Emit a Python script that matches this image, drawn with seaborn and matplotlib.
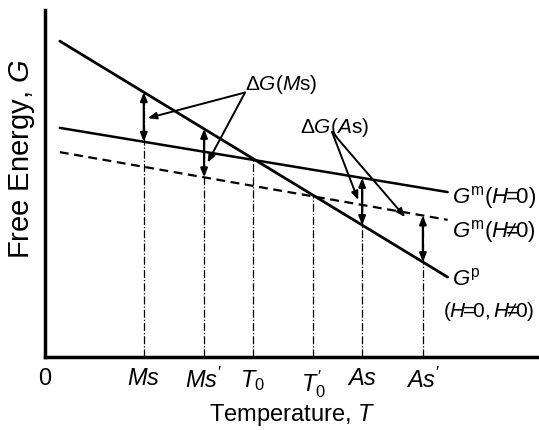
import matplotlib
matplotlib.use('Agg')
import matplotlib.pyplot as plt
import numpy as np
import seaborn as sns

# free energy lines (schematic), end points in arbitrary units
T_line = [0.3, 8.15]
G_p = [9.1, 2.3]      # parent phase, same for H=0 and H!=0
G_m0 = [6.6, 4.75]    # martensite, H=0
G_m1 = [5.9, 3.95]    # martensite, H!=0

# characteristic temperatures
T_names = ['Ms', 'Ms2', 'T0', 'T02', 'As', 'As2']
T_vals = [2.0, 3.22, 4.21, 5.43, 6.42, 7.65]
tick_labels = ['0', r'$Ms$', r"$Ms'$", r'$T_0$', r"$T_0'$", r'$As$', r"$As'$"]

sns.set_style('white')
plt.rcParams['font.family'] = ['Liberation Sans', 'DejaVu Sans']
plt.rcParams['mathtext.fontset'] = 'custom'
plt.rcParams['mathtext.rm'] = 'Liberation Sans'
plt.rcParams['mathtext.it'] = 'Liberation Sans:italic'
plt.rcParams['mathtext.bf'] = 'Liberation Sans:bold'
plt.rcParams['text.color'] = 'black'
plt.rcParams['axes.labelcolor'] = 'black'
plt.rcParams['xtick.color'] = 'black'

fig = plt.figure(figsize=(5.39, 4.30), dpi=100)
ax = fig.add_axes([0.0835, 0.17, 0.9165, 0.807])


def g(line, t):
    return np.interp(t, T_line, line)


sns.lineplot(x=T_line, y=G_p, ax=ax, color='black', lw=2.0)
sns.lineplot(x=T_line, y=G_m0, ax=ax, color='black', lw=1.8)
sns.lineplot(x=T_line, y=G_m1, ax=ax, color='black', lw=1.6, linestyle=(0, (4, 2.5)))

T = dict(zip(T_names, T_vals))

# vertical guide lines up to the relevant curve
tops = [g(G_p, T['Ms']), g(G_p, T['Ms2']), g(G_p, T['T0']), g(G_p, T['T02']),
        g(G_m0, T['As']), g(G_m1, T['As2'])]
ax.vlines(T_vals, 0, tops, colors='black', linestyles='dashdot', lw=0.9)

# driving force arrows
pairs = [(T['Ms'], G_m0), (T['Ms2'], G_m1), (T['As'], G_m0), (T['As2'], G_m1)]
for t, gm in pairs:
    ax.annotate('', xy=(t, g(G_p, t)), xytext=(t, g(gm, t)),
                arrowprops=dict(arrowstyle='<|-|>,head_length=0.5,head_width=0.2',
                                color='black', lw=1.6, shrinkA=0, shrinkB=0))

ptr = dict(arrowstyle='-|>,head_length=0.5,head_width=0.2', color='black',
           lw=1.4, shrinkA=0, shrinkB=0)

# Delta G(Ms) label and pointers
ax.text(4.05, 7.84, r'$\Delta G(M{\rm s})$', fontsize=15, ha='left', va='center')
ax.annotate('', xy=(T['Ms'] + 0.08, 6.88), xytext=(4.05, 7.62), arrowprops=ptr)
ax.annotate('', xy=(T['Ms2'] + 0.07, 5.6), xytext=(4.05, 7.62), arrowprops=ptr)

# Delta G(As) label and pointers
ax.text(5.17, 6.6, r'$\Delta G(A{\rm s})$', fontsize=15, ha='left', va='center')
ax.annotate('', xy=(6.34, 4.52), xytext=(5.81, 6.48), arrowprops=ptr)
ax.annotate('', xy=(7.29, 4.03), xytext=(5.81, 6.48), arrowprops=ptr)

# curve labels
ax.text(8.24, 4.6, r'$G^{\rm m}(H\!\!=\!\!0)$', fontsize=16, ha='left', va='center')
ax.text(8.24, 3.6, r'$G^{\rm m}(H\!\!\neq\!\!0)$', fontsize=16, ha='left', va='center')
ax.text(8.24, 2.22, r'$G^{\rm p}$', fontsize=16, ha='left', va='center')
ax.text(8.06, 1.3, r'$(H\!\!=\!\!0,H\!\!\neq\!\!0)$', fontsize=15, ha='left', va='center')

ax.set_xlim(0, 10)
ax.set_ylim(0, 10)
ax.set_xticks([0] + T_vals)
ax.set_xticklabels(tick_labels)
ax.set_yticks([])
ax.tick_params(axis='x', length=0, pad=8, labelsize=17, labelcolor='black')
ax.set_xlabel(r'Temperature, $T$', fontsize=17, va='center')
ax.xaxis.set_label_coords(0.5, -0.167)
ax.set_ylabel(r'Free Energy, $G$', fontsize=21, va='center')
ax.yaxis.set_label_coords(-0.047, 0.57)

sns.despine(ax=ax)
for s in ['left', 'bottom']:
    ax.spines[s].set_linewidth(2.5)
    ax.spines[s].set_color('black')

fig.savefig('out.png', dpi=100)
